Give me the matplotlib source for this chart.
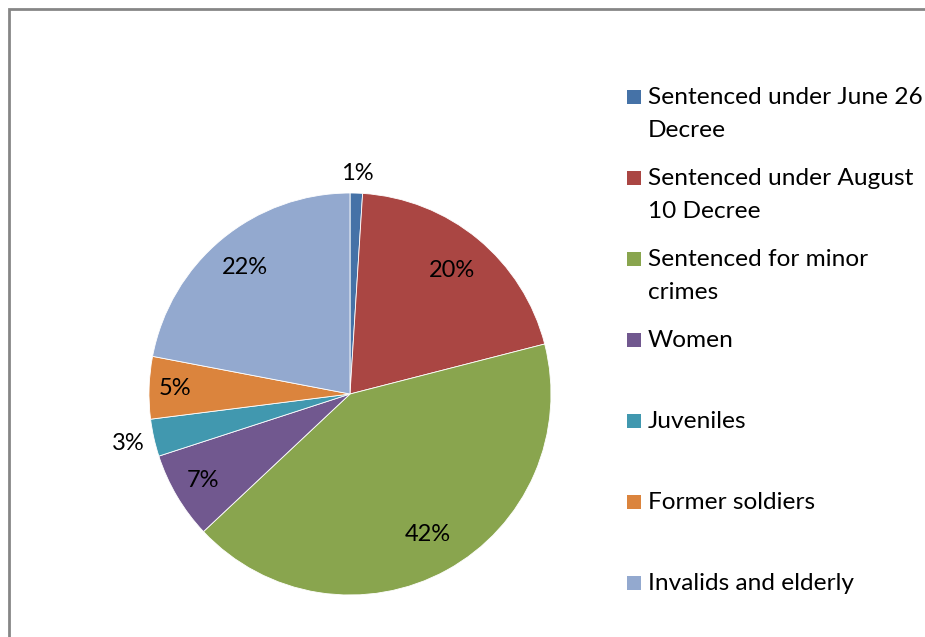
import numpy as np
import matplotlib.pyplot as plt
from matplotlib.patches import Rectangle

plt.rcParams['font.family'] = ['Lato', 'DejaVu Sans']

categories = ["Sentenced under June 26\nDecree",
              "Sentenced under August\n10 Decree",
              "Sentenced for minor\ncrimes",
              "Women",
              "Juveniles",
              "Former soldiers",
              "Invalids and elderly"]
shares = [1, 20, 42, 7, 3, 5, 22]
colors = ["#4572A7", "#AA4643", "#89A54E", "#71588F",
          "#4198AF", "#DB843D", "#93A9CF"]
# distance of each percentage label from the centre, in radii
label_dist = [1.10, 0.80, 0.80, 0.85, 1.13, 0.87, 0.82]

W, H = 925, 637
fig = plt.figure(figsize=(W / 100, H / 100), dpi=100)

# chart frame (only top and left edges fall inside the image)
fig.patches.append(Rectangle((9 / W, -0.1), 1.2, (H - 9) / H + 0.1,
                             transform=fig.transFigure, fill=False,
                             edgecolor="#868686", linewidth=2))

cx, cy, r = 350, 394, 201
ax = fig.add_axes([(cx - r) / W, (H - cy - r) / H, 2 * r / W, 2 * r / H])
wedges, _ = ax.pie(shares, colors=colors, startangle=90, counterclock=False,
                   radius=1, wedgeprops=dict(edgecolor="white", linewidth=0.6))
ax.set_xlim(-1, 1)
ax.set_ylim(-1, 1)
ax.set_aspect("equal")
ax.axis("off")

for w, v, d in zip(wedges, shares, label_dist):
    ang = np.deg2rad((w.theta1 + w.theta2) / 2)
    ax.text(d * np.cos(ang), d * np.sin(ang), f"{v}%", ha="center",
            va="center", fontsize=17, color="black", clip_on=False)

# legend
for i, (lab, c) in enumerate(zip(categories, colors)):
    yc = 97 + 81 * i
    fig.patches.append(Rectangle((627 / W, (H - yc - 7) / H), 14 / W, 14 / H,
                                 transform=fig.transFigure, facecolor=c,
                                 edgecolor="none"))
    fig.text(648 / W, (H - yc + 10) / H, lab, ha="left", va="top",
             fontsize=17.6, color="black", linespacing=1.68)

fig.savefig("out.png", dpi=100)
